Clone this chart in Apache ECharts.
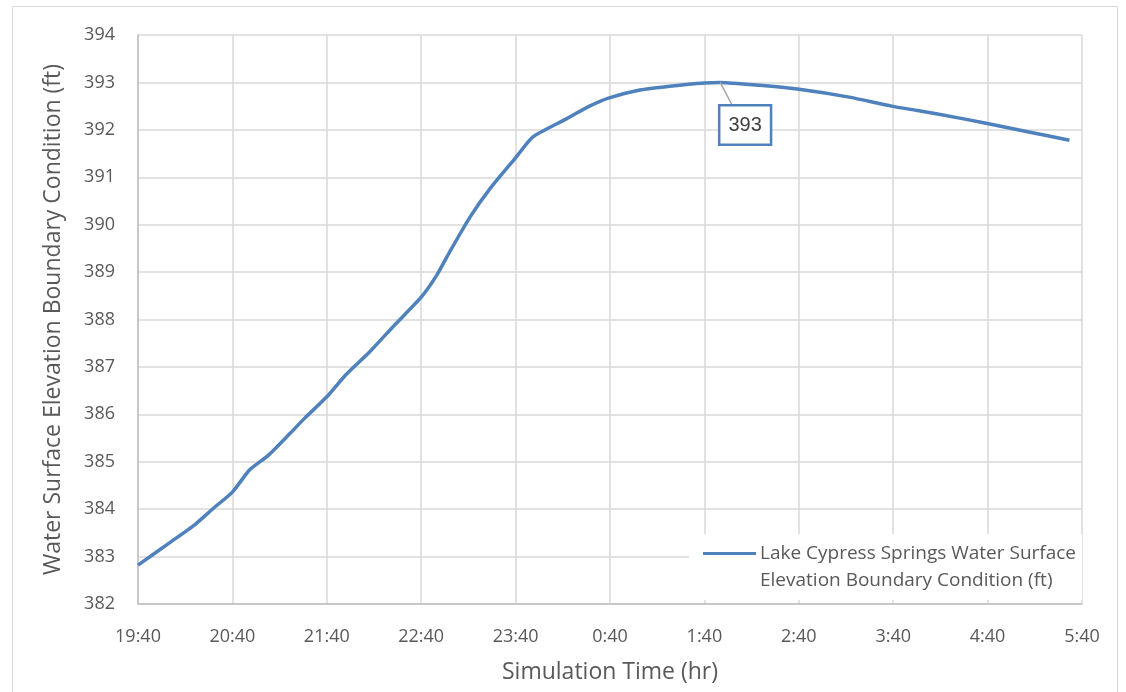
<!DOCTYPE html>
<html>
<head>
<meta charset="utf-8">
<script src="https://cdn.jsdelivr.net/npm/echarts@6/dist/echarts.min.js"></script>
<style>html,body{margin:0;padding:0;background:#fff}#c{width:1126px;height:692px}</style>
</head>
<body>
<div id="c"></div>
<script>
// minutes after 19:40
const timeMinutes = [0, 20, 36, 48, 60, 71, 83, 97, 106, 120, 132, 147, 163, 180, 190, 198, 211, 224, 240, 251, 271, 287, 299, 319, 338, 360, 370, 395, 419, 452, 479, 509, 539, 567, 592];
const elevation = [382.82, 383.29, 383.67, 384.02, 384.36, 384.83, 385.14, 385.61, 385.92, 386.37, 386.83, 387.31, 387.88, 388.47, 388.94, 389.42, 390.16, 390.77, 391.41, 391.85, 392.21, 392.50, 392.67, 392.84, 392.92, 392.99, 393.00, 392.94, 392.86, 392.69, 392.50, 392.33, 392.14, 391.95, 391.78];
const startHour = 19, startMin = 40;
const seriesName = 'Lake Cypress Springs Water Surface\nElevation Boundary Condition (ft)';
const peakIndex = 26;

const C = '#4F81BD', TXT = '#595959';
function fmtTime(m) {
  const tot = startHour * 60 + startMin + m;
  const h = Math.floor(tot / 60) % 24, mm = tot % 60;
  return h + ':' + (mm < 10 ? '0' : '') + mm;
}
const data = timeMinutes.map((t, i) => {
  const d = { value: [t, elevation[i]] };
  if (i === peakIndex) {
    d.label = {
      show: true, position: 'bottom', distance: 24, offset: [25, 0],
      formatter: () => Math.round(elevation[i]).toString(),
      fontFamily: 'Liberation Sans, Arial', fontSize: 20, color: '#404040',
      backgroundColor: '#fff', borderColor: C, borderWidth: 2.5,
      padding: [9, 8, 8, 8]
    };
  }
  return d;
});
const chart = echarts.init(document.getElementById('c'));
chart.setOption({
  animation: false,
  grid: { left: 138, right: 44, top: 35, bottom: 88 },
  graphic: [{ type: 'rect', shape: { x: 12.5, y: 6.5, width: 1105, height: 700 }, style: { fill: 'none', stroke: '#d9d9d9', lineWidth: 1 }, silent: true }],
  xAxis: {
    type: 'value', min: 0, max: 600, interval: 60,
    name: 'Simulation Time (hr)', nameLocation: 'middle', nameGap: 57,
    nameTextStyle: { fontFamily: 'Open Sans', fontSize: 23, color: TXT },
    axisLine: { lineStyle: { color: '#bfbfbf', width: 1.5 } },
    axisTick: { show: false },
    axisLabel: { formatter: fmtTime, margin: 24, fontFamily: 'Open Sans', fontSize: 18, color: TXT },
    splitLine: { show: true, lineStyle: { color: '#d9d9d9', width: 1.5 } }
  },
  yAxis: {
    type: 'value', min: 382, max: 394, interval: 1,
    name: 'Water Surface Elevation Boundary Condition (ft)', nameLocation: 'middle', nameGap: 73,
    nameTextStyle: { fontFamily: 'Open Sans', fontSize: 23, color: TXT },
    axisLine: { show: true, lineStyle: { color: '#bfbfbf', width: 1.5 } },
    axisTick: { show: false },
    axisLabel: { margin: 23, fontFamily: 'Open Sans', fontSize: 18, color: TXT },
    splitLine: { show: true, lineStyle: { color: '#d9d9d9', width: 1.5 } }
  },
  legend: {
    left: 689, top: 534, orient: 'vertical',
    backgroundColor: '#fff', padding: [6, 6, 6, 14],
    itemWidth: 53, itemHeight: 30, itemGap: 5,
    icon: 'path://M0,0h53v3h-53z M0,29.99h0.01v0.01h-0.01z',
    textStyle: { fontFamily: 'Open Sans', fontSize: 19, color: TXT, lineHeight: 27, padding: [0, 0, 0, -1] },
    data: [{ name: seriesName, itemStyle: { color: C } }]
  },
  series: [{
    name: seriesName, type: 'line', data: data,
    smooth: 0.2, showSymbol: true, symbol: 'circle', symbolSize: 0,
    itemStyle: { color: C },
    lineStyle: { color: C, width: 3.5 },
    labelLine: { show: true, lineStyle: { color: '#a6a6a6', width: 1.5 } },
    emphasis: { disabled: true }
  }]
});
</script>
</body>
</html>
